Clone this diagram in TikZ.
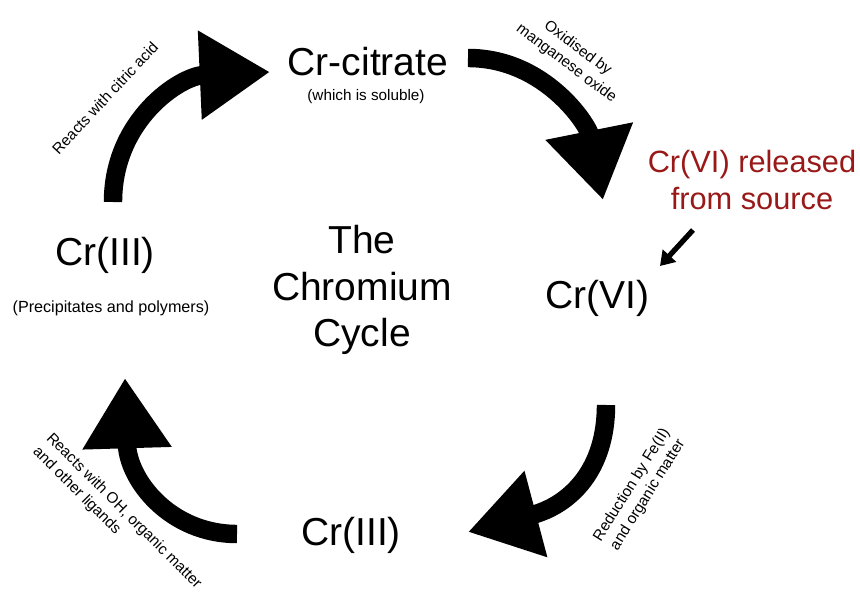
\documentclass[tikz,border=0pt]{standalone}
\usepackage{fontspec}
\setmainfont{Liberation Sans}
\usepackage{tikz}
\usetikzlibrary{arrows.meta}
\definecolor{srcclr}{rgb}{0.6,0.1,0.1}
\tikzset{
  big/.style={font=\fontsize{22.2}{26.3}\selectfont, align=center},
  small/.style={font=\fontsize{8.7}{10.8}\selectfont, align=center},
  cyclearrow/.style={line width=10.5pt, -{Triangle[length=40pt,width=48pt]}},
}
\begin{document}
\begin{tikzpicture}[x=0.02cm,y=-0.02cm]%[remember picture,overlay]
\useasboundingbox (0,0) rectangle (860,598);
\node[big] (citrate) at (368,62) {Cr-citrate};
\node[small] (soluble) at (366,97) {(which is soluble)};
\node[big] (crthree) at (105,255) {Cr(III)};
\node[small, font=\fontsize{9.2}{11}\selectfont] (precip) at (111,308) {(Precipitates and polymers)};
\node[big] (title) at (362,290) {The\\Chromium\\Cycle};
\node[big] (crsix) at (597,298) {Cr(VI)};
\node[big] (crthreeb) at (351,535) {Cr(III)};
\node[align=center, text=srcclr, font=\fontsize{17.5}{20.6}\selectfont] (source) at (752,180) {Cr(VI) released\\from source};
% arrow ends
\coordinate (a1s) at (113,202); \coordinate (a1e) at (270,72);
\coordinate (a2s) at (468,58);  \coordinate (a2e) at (603,200);
\coordinate (a3s) at (606,405); \coordinate (a3e) at (468,532);
\coordinate (a4s) at (237,534); \coordinate (a4e) at (125,378);
\coordinate (srcs) at (693,230); \coordinate (srce) at (660,266);
\draw[cyclearrow] (a1s) .. controls (113,120) and (180,76) .. (a1e);
\draw[cyclearrow] (a2s) .. controls (545,58) and (588,125) .. (a2e);
\draw[cyclearrow] (a3s) .. controls (606,470) and (570,505) .. (a3e);
\draw[cyclearrow] (a4s) .. controls (170,534) and (128,480) .. (a4e);
\draw[line width=3pt, -{Triangle[length=8pt,width=10pt]}] (srcs) -- (srce);
% labels
\node[small, rotate=47] (citric) at (105,98) {Reacts with citric acid};
\node[small, rotate=-37] (oxid) at (572,56) {Oxidised by\\manganese oxide};
\node[small, rotate=58] (reduc) at (640,490) {Reduction by Fe(II)\\and organic matter};
\node[small, rotate=-45, align=left] (ligands) at (117,518) {Reacts with OH, organic matter\\and other ligands};
\end{tikzpicture}
\end{document}
